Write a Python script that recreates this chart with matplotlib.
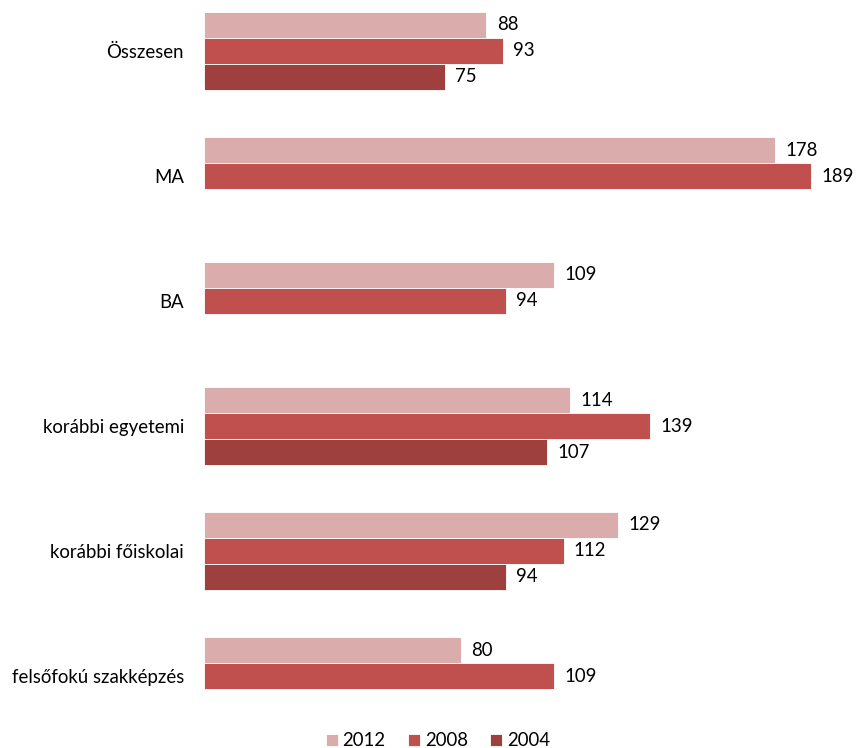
import numpy as np
import matplotlib.pyplot as plt

plt.rcParams['font.family'] = ['Lato', 'DejaVu Sans']

categories = ['Összesen', 'MA', 'BA', 'korábbi egyetemi',
              'korábbi főiskolai', 'felsőfokú szakképzés']
years = ['2012', '2008', '2004']
values_2012 = [88, 178, 109, 114, 129, 80]
values_2008 = [93, 189, 94, 139, 112, 109]
values_2004 = [75, None, None, 107, 94, None]
colors = ['#DBACAC', '#C0504D', '#9E413E']

fig = plt.figure(figsize=(8.56, 7.48), dpi=100)
W, H = 856, 748
# axes placed in pixels: zero at x=204, groups centred 51..676 px
ax = fig.add_axes([204 / W, (H - 730) / H, 642 / W, 730 / H])

y = np.arange(len(categories))
h = 26 / 125
series = [values_2012, values_2008, values_2004]
for i, (vals, col, yr) in enumerate(zip(series, colors, years)):
    pos = y + (i - 1) * h
    xs = [v if v is not None else 0 for v in vals]
    bars = ax.barh(pos, xs, height=h, color=col, edgecolor='white',
                   linewidth=0.6, label=yr)
    for b, v in zip(bars, vals):
        if v is None:
            b.set_visible(False)
            continue
        ax.text(v + 3.2, b.get_y() + h / 2, str(v), va='center', ha='left',
                fontsize=13.4)

ax.set_xlim(0, 200)
ax.set_ylim(5 + 54 / 125, -51 / 125)
ax.set_yticks(y)
ax.set_yticklabels(categories, fontsize=13.4)
ax.tick_params(axis='y', length=0, pad=14.4)
ax.set_xticks([])
for s in ax.spines.values():
    s.set_visible(False)

handles, labels = ax.get_legend_handles_labels()
fig.legend(handles, labels, loc='center', bbox_to_anchor=(438 / W, 1 - 741 / H),
           ncol=3, frameon=False, fontsize=13.4, handlelength=0.65,
           handleheight=0.65, handletextpad=0.25, columnspacing=1.2)

fig.savefig('out.png', dpi=100)
